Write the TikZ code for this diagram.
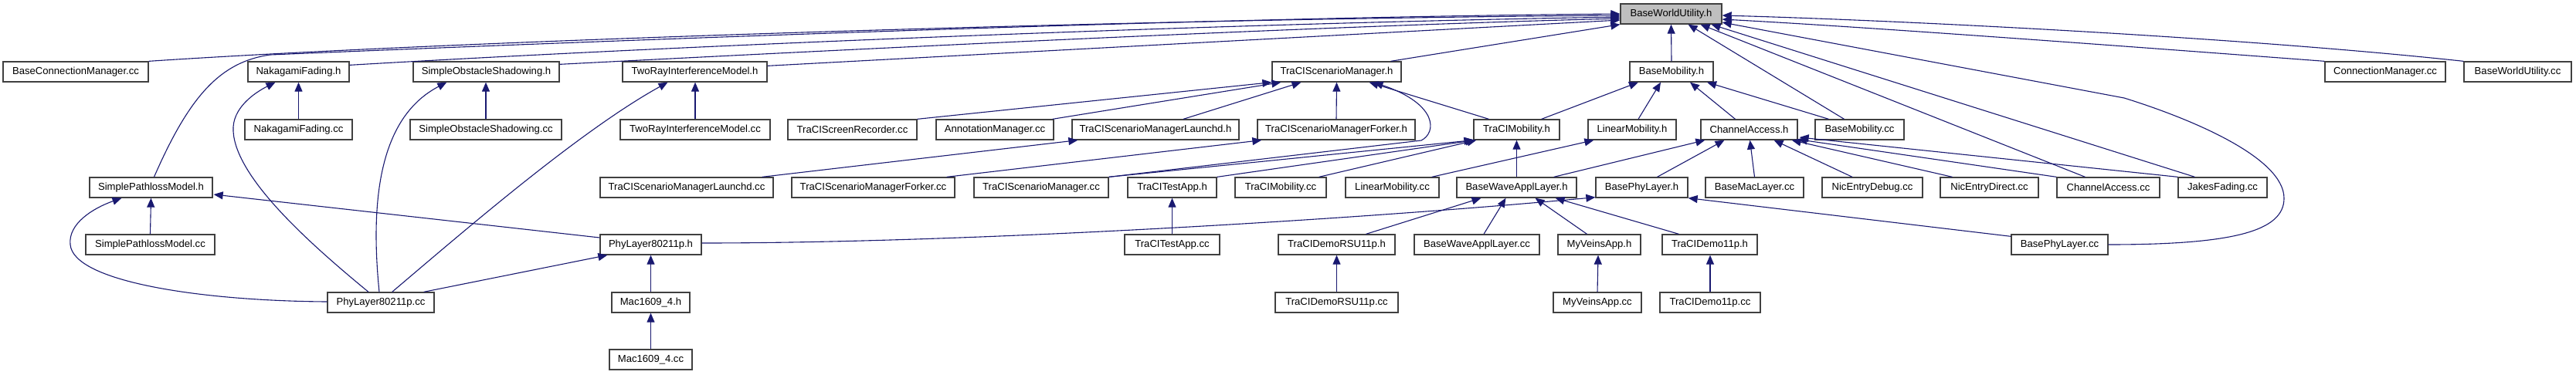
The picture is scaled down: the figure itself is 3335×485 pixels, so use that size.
\documentclass[tikz,border=0pt]{standalone}
\usepackage{fontspec}
\setmainfont{Liberation Sans}
\usetikzlibrary{arrows.meta,calc}
\definecolor{edgeblue}{HTML}{191970}
\definecolor{nodegray}{HTML}{BFBFBF}
\definecolor{boxline}{HTML}{404040}
\begin{document}
\begin{tikzpicture}[x=1pt,y=-1pt,
  box/.style={draw=boxline,line width=1.3pt,fill=white,minimum height=26pt,inner sep=0pt,
    font=\fontsize{13.1pt}{15pt}\selectfont},
  edge/.style={draw=edgeblue,line width=1.1pt,-{Triangle[length=12pt,width=10pt]}}]
\useasboundingbox (0,0) rectangle (3335,485);
% row 0
\node[box,fill=nodegray,minimum width=131pt] (bwuh) at (2163.5,18) {BaseWorldUtility.h};
% row 1
\node[box,minimum width=188pt] (bcmcc) at (98,93) {BaseConnectionManager.cc};
\node[box,minimum width=131pt] (nakh) at (386.5,93) {NakagamiFading.h};
\node[box,minimum width=189pt] (sosh) at (629.5,93) {SimpleObstacleShadowing.h};
\node[box,minimum width=187pt] (trih) at (899.5,93) {TwoRayInterferenceModel.h};
\node[box,minimum width=167pt] (tsmh) at (1730.5,93) {TraCIScenarioManager.h};
\node[box,minimum width=108pt] (bmh) at (2164,93) {BaseMobility.h};
\node[box,minimum width=156pt] (cmcc) at (3088,93) {ConnectionManager.cc};
\node[box,minimum width=139pt] (bwucc) at (3259.5,93) {BaseWorldUtility.cc};
% row 2
\node[box,minimum width=139pt] (nakcc) at (386.5,168) {NakagamiFading.cc};
\node[box,minimum width=196pt] (soscc) at (629,168) {SimpleObstacleShadowing.cc};
\node[box,minimum width=194pt] (tricc) at (900,168) {TwoRayInterferenceModel.cc};
\node[box,minimum width=167pt] (tsrcc) at (1103.5,168) {TraCIScreenRecorder.cc};
\node[box,minimum width=152pt] (amcc) at (1288,168) {AnnotationManager.cc};
\node[box,minimum width=216pt] (tsmlh) at (1496,168) {TraCIScenarioManagerLaunchd.h};
\node[box,minimum width=204pt] (tsmfh) at (1730,168) {TraCIScenarioManagerForker.h};
\node[box,minimum width=111pt] (tmh) at (1963.5,168) {TraCIMobility.h};
\node[box,minimum width=114pt] (lmh) at (2113,168) {LinearMobility.h};
\node[box,minimum width=125pt] (cah) at (2264.5,168) {ChannelAccess.h};
\node[box,minimum width=115pt] (bmcc) at (2407.5,168) {BaseMobility.cc};
% row 3
\node[box,minimum width=159pt] (spmh) at (195.5,243) {SimplePathlossModel.h};
\node[box,minimum width=224pt] (tsmlcc) at (889,243) {TraCIScenarioManagerLaunchd.cc};
\node[box,minimum width=211pt] (tsmfcc) at (1130.5,243) {TraCIScenarioManagerForker.cc};
\node[box,minimum width=174pt] (tsmcc) at (1348,243) {TraCIScenarioManager.cc};
\node[box,minimum width=115pt] (ttah) at (1517.5,243) {TraCITestApp.h};
\node[box,minimum width=118pt] (tmcc) at (1658,243) {TraCIMobility.cc};
\node[box,minimum width=121pt] (lmcc) at (1802.5,243) {LinearMobility.cc};
\node[box,minimum width=155pt] (bwalh) at (1963.5,243) {BaseWaveApplLayer.h};
\node[box,minimum width=119pt] (bplh) at (2125.5,243) {BasePhyLayer.h};
\node[box,minimum width=127pt] (bmlcc) at (2271.5,243) {BaseMacLayer.cc};
\node[box,minimum width=130pt] (nedcc) at (2424,243) {NicEntryDebug.cc};
\node[box,minimum width=127pt] (nedircc) at (2575.5,243) {NicEntryDirect.cc};
\node[box,minimum width=133pt] (cacc) at (2729.5,243) {ChannelAccess.cc};
\node[box,minimum width=115pt] (jfcc) at (2877.5,243) {JakesFading.cc};
% row 4
\node[box,minimum width=167pt] (spmcc) at (194.5,317) {SimplePathlossModel.cc};
\node[box,minimum width=131pt] (plh) at (842.5,317) {PhyLayer80211p.h};
\node[box,minimum width=123pt] (ttacc) at (1517.5,317) {TraCITestApp.cc};
\node[box,minimum width=151pt] (rsuh) at (1730.5,317) {TraCIDemoRSU11p.h};
\node[box,minimum width=162pt] (bwalcc) at (1912,317) {BaseWaveApplLayer.cc};
\node[box,minimum width=107pt] (mvah) at (2070.5,317) {MyVeinsApp.h};
\node[box,minimum width=123pt] (tdh) at (2213.5,317) {TraCIDemo11p.h};
\node[box,minimum width=125pt] (bplcc) at (2666.5,317) {BasePhyLayer.cc};
% row 5
\node[box,minimum width=138pt] (plcc) at (493,392) {PhyLayer80211p.cc};
\node[box,minimum width=101pt] (mach) at (842.5,392) {Mac1609\_4.h};
\node[box,minimum width=159pt] (rsucc) at (1730.5,392) {TraCIDemoRSU11p.cc};
\node[box,minimum width=114pt] (mvacc) at (2068,392) {MyVeinsApp.cc};
\node[box,minimum width=130pt] (tdcc) at (2214,392) {TraCIDemo11p.cc};
% row 6
\node[box,minimum width=107pt] (maccc) at (842.5,466) {Mac1609\_4.cc};

% edges to BaseWorldUtility.h
\draw[edge] (bcmcc.north east) .. controls (600,52) and (1500,24) .. ($(bwuh.west)+(0,2)$);
\draw[edge] ($(spmh.north)+(4,0)$) .. controls (245,125) and (285,80) .. (350,71) .. controls (900,48) and (1600,22) .. ($(bwuh.west)+(0,0)$);
\draw[edge] ($(nakh.north east)+(0,5)$) .. controls (900,58) and (1600,30) .. ($(bwuh.west)+(0,4)$);
\draw[edge] ($(sosh.north east)+(0,4)$) .. controls (1100,64) and (1700,34) .. ($(bwuh.west)+(0,6)$);
\draw[edge] ($(trih.north east)+(0,6)$) -- ($(bwuh.west)+(0,8)$);
\draw[edge] ($(tsmh.north)+(70,0)$) -- (bwuh.south west);
\draw[edge] (cmcc.north west) .. controls (2700,56) and (2400,34) .. ($(bwuh.east)+(0,7)$);
\draw[edge] (bwucc.north west) .. controls (2900,48) and (2450,26) .. ($(bwuh.east)+(0,2)$);
\draw[edge] (bmh.north) -- (bwuh.south);
\draw[edge] ($(bmcc.north)+(-20,0)$) -- ($(bwuh.south)+(22,0)$);
\draw[edge] ($(cacc.north)+(-30,0)$) -- ($(bwuh.south)+(38,0)$);
\draw[edge] ($(jfcc.north)+(-36,0)$) -- ($(bwuh.south)+(52,0)$);
\draw[edge] (bplcc.east) .. controls (2890,317) and (2957,300) .. (2957,257) .. controls (2957,205) and (2840,155) .. (2750,127) -- ($(bwuh.east)+(0,11)$);

% edges to TraCIScenarioManager.h
\draw[edge] (tsrcc.north east) -- (tsmh.south west);
\draw[edge] ($(amcc.north east)+(-2,0)$) -- ($(tsmh.south west)+(12,0)$);
\draw[edge] ($(tsmlh.north)+(36,0)$) -- ($(tsmh.south)+(-46,0)$);
\draw[edge] (tsmfh.north) -- (tsmh.south);
\draw[edge] ($(tmh.north)+(-36,0)$) -- ($(tsmh.south)+(42,0)$);
\draw[edge] (tsmcc.north east) -- (1840,182) .. controls (1860,172) and (1862,135) .. ($(tsmh.south)+(48,0)$);

% edges to BaseMobility.h
\draw[edge] ($(tmh.north east)+(-24,0)$) -- ($(bmh.south)+(-43,0)$);
\draw[edge] ($(lmh.north)+(8,0)$) -- ($(bmh.south)+(-14,0)$);
\draw[edge] ($(cah.north)+(-18,0)$) -- ($(bmh.south)+(24,0)$);
\draw[edge] ($(bmcc.north)+(-40,0)$) -- ($(bmh.south)+(46,0)$);

% edges to LinearMobility.h, TraCIMobility.h
\draw[edge] ($(lmcc.north east)+(-10,0)$) -- ($(lmh.south west)+(8,0)$);
\draw[edge] (tsmcc.north east) -- (tmh.south west);
\draw[edge] (ttah.north east) -- ($(tmh.south west)+(2,0)$);
\draw[edge] ($(tmcc.north east)+(-10,0)$) -- ($(tmh.south west)+(4,0)$);
\draw[edge] (bwalh.north) -- (tmh.south);

% edges to Launchd.h, Forker.h, TestApp.h
\draw[edge] ($(tsmlcc.north east)+(-15,0)$) -- ($(tsmlh.south west)+(8,0)$);
\draw[edge] ($(tsmfcc.north east)+(-11,0)$) -- ($(tsmfh.south west)+(6,0)$);
\draw[edge] (ttacc.north) -- (ttah.south);

% edges to ChannelAccess.h
\draw[edge] ($(bwalh.north east)+(-30,0)$) -- ($(cah.south west)+(6,0)$);
\draw[edge] ($(bplh.north)+(20,0)$) -- ($(cah.south)+(-32,0)$);
\draw[edge] (bmlcc.north) -- ($(cah.south)+(1,0)$);
\draw[edge] ($(nedcc.north)+(-26,0)$) -- ($(cah.south)+(32,0)$);
\draw[edge] ($(nedircc.north)+(-48,0)$) -- ($(cah.south east)+(-8,0)$);
\draw[edge] (cacc.north west) -- ($(cah.south east)+(0,-1)$);
\draw[edge] (jfcc.north west) -- ($(cah.east)+(2,10)$);

% edges to BaseWaveApplLayer.h
\draw[edge] ($(rsuh.north)+(38,0)$) -- ($(bwalh.south)+(-46,0)$);
\draw[edge] ($(bwalcc.north)+(9,0)$) -- ($(bwalh.south)+(-14,0)$);
\draw[edge] ($(mvah.north)+(-16,0)$) -- ($(bwalh.south)+(24,0)$);
\draw[edge] ($(tdh.north)+(-40,0)$) -- ($(bwalh.south)+(50,0)$);

% edges to BasePhyLayer.h
\draw[edge] ($(plh.east)+(0,-2)$) .. controls (1250,315) and (1750,285) .. ($(bplh.south west)+(0,-1)$);
\draw[edge] ($(bplcc.north west)+(0,3)$) -- (bplh.south east);

% edges to PhyLayer80211p.h and Mac1609_4.h
\draw[edge] ($(plcc.north east)+(-14,0)$) -- ($(plh.south west)+(10,0)$);
\draw[edge] (mach.north) -- (plh.south);
\draw[edge] (maccc.north) -- (mach.south);

% edges to SimplePathlossModel.h
\draw[edge] (spmcc.north) -- (spmh.south);
\draw[edge] ($(plh.west)+(0,-9)$) -- ($(spmh.east)+(1,9)$);
\draw[edge] ($(plcc.west)+(0,-1)$) .. controls (260,390) and (95,365) .. (91,317) .. controls (88,290) and (120,270) .. ($(spmh.south)+(-38,0)$);

% edges to NakagamiFading.h, SimpleObstacleShadowing.h, TwoRayInterferenceModel.h
\draw[edge] (nakcc.north) -- (nakh.south);
\draw[edge] ($(plcc.north)+(-16,0)$) .. controls (400,315) and (305,230) .. (302,170) .. controls (300,140) and (330,120) .. ($(nakh.south)+(-30,0)$);
\draw[edge] (soscc.north) -- ($(sosh.south)+(-0.5,0)$);
\draw[edge] ($(plcc.north)+(-2,0)$) .. controls (478,250) and (495,150) .. ($(sosh.south west)+(44,0)$);
\draw[edge] (tricc.north) -- ($(trih.south)+(0.5,0)$);
\draw[edge] ($(plcc.north east)+(-55,0)$) .. controls (600,300) and (750,170) .. ($(trih.south)+(-35,0)$);

% vertical demo edges
\draw[edge] (rsucc.north) -- (rsuh.south);
\draw[edge] (mvacc.north) -- ($(mvah.south)+(-1.5,0)$);
\draw[edge] (tdcc.north) -- ($(tdh.south)+(0.5,0)$);
\end{tikzpicture}
\end{document}
